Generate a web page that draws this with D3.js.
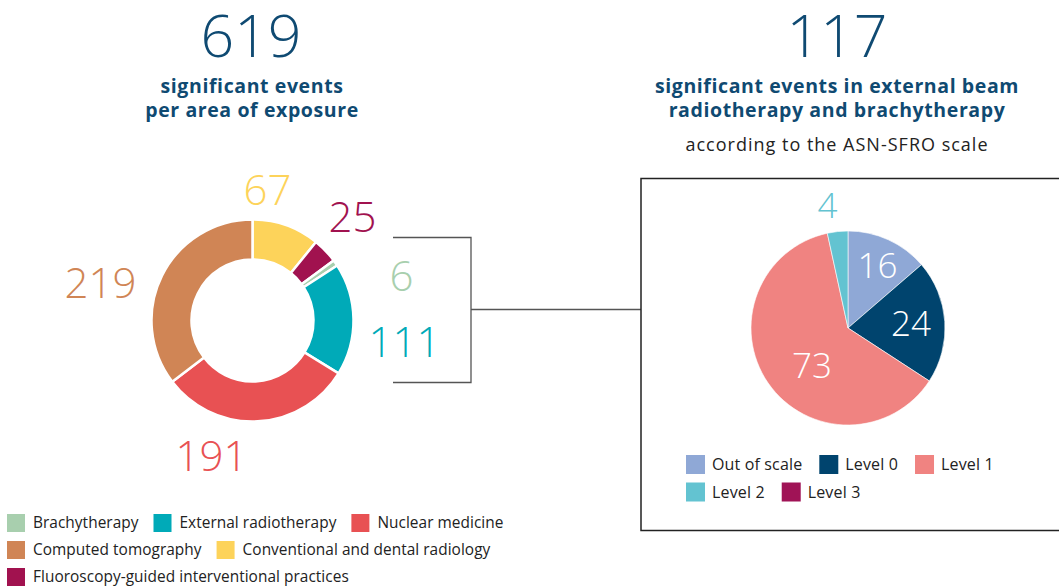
<!DOCTYPE html>
<html>
<head>
<meta charset="utf-8">
<script src="https://cdn.jsdelivr.net/npm/d3@7"></script>
<style>
  body { margin: 0; background: #fff; }
  svg { display: block; font-family: 'Open Sans', 'Noto Sans', sans-serif; }
</style>
</head>
<body>
<div id="chart"></div>
<script>
// Eventos significativos por área de exposición
const areas = ['Conventional and dental radiology', 'Fluoroscopy-guided interventional practices', 'Brachytherapy',
               'External radiotherapy', 'Nuclear medicine', 'Computed tomography'];
const areaValues = [67, 25, 6, 111, 191, 219];
const areaColors = ['#fdd35a', '#a1124f', '#a8cfae', '#00aab8', '#e85153', '#d08555'];
const areaLegend = [['Brachytherapy', 'External radiotherapy', 'Nuclear medicine'],
                    ['Computed tomography', 'Conventional and dental radiology'],
                    ['Fluoroscopy-guided interventional practices']];

// Escala ASN-SFRO
const levels = ['Out of scale', 'Level 0', 'Level 1', 'Level 2', 'Level 3'];
const levelValues = [16, 24, 73, 4, 0];
const levelColors = ['#8fa8d6', '#00446e', '#f08381', '#63c3d1', '#a01356'];
const levelLegend = [['Out of scale', 'Level 0', 'Level 1'], ['Level 2', 'Level 3']];

const width = 1059, height = 587;
const navy = '#0f4a72';

const svg = d3.select('#chart').append('svg')
  .attr('viewBox', [0, 0, width, height])
  .attr('width', width)
  .attr('height', height);

const  titles = svg.append('g').attr('id', 'titles');
const   donut = svg.append('g').attr('id', 'donut').attr('transform', 'translate(252.5,320.5)');
const bracket = svg.append('g').attr('id', 'bracket');
const  pieBox = svg.append('g').attr('id', 'pie-box');
const     pie = svg.append('g').attr('id', 'pie').attr('transform', 'translate(848,328)');
const legends = svg.append('g').attr('id', 'legends');

// ━━━ Titulos ━━━
const total1 = d3.sum(areaValues), total2 = d3.sum(levelValues);

titles.append('text').attr('x', 251).attr('y', 57).attr('text-anchor', 'middle')
  .attr('font-size', 59).attr('font-weight', 300).attr('fill', navy).text(total1);
titles.append('text').attr('x', 837).attr('y', 57).attr('text-anchor', 'middle')
  .attr('font-size', 59).attr('font-weight', 300).attr('fill', navy).text(total2);

// titulo en dos lineas (un solo text con tspans)
function twoLines(x, lines) {
  const t = titles.append('text').attr('x', x).attr('y', 93).attr('text-anchor', 'middle')
    .attr('font-size', 19.5).attr('font-weight', 700).attr('letter-spacing', 0.6).attr('fill', navy);
  lines.forEach((l, i) => t.append('tspan').attr('x', x).attr('dy', i ? 24 : 0).text(l));
}
twoLines(252, ['significant events', 'per area of exposure']);
twoLines(837, ['significant events in external beam', 'radiotherapy and brachytherapy']);

titles.append('text').attr('x', 837).attr('y', 151).attr('text-anchor', 'middle')
  .attr('font-size', 18).attr('letter-spacing', 1).attr('fill', '#222')
  .text('according to the ASN-SFRO scale');

// ━━━ Donut ━━━
const donutPie = d3.pie().sort(null).value(d => d);
const donutArc = d3.arc().innerRadius(61).outerRadius(101);

donut.selectAll('path')
  .data(donutPie(areaValues))
  .join('path')
  .attr('d', donutArc)
  .attr('fill', (d, i) => areaColors[i])
  .attr('stroke', '#fff')
  .attr('stroke-width', 2.5);

// etiquetas externas (posiciones en px respecto del centro)
const donutLabels = [
  { i: 0, dx: 15,   dy: -130.5 },
  { i: 1, dx: 100,  dy: -104 },
  { i: 2, dx: 149,  dy: -45 },
  { i: 3, dx: 152,  dy: 21.5 },
  { i: 4, dx: -41,  dy: 135.5 },
  { i: 5, dx: -152, dy: -37.5 }
];
donut.selectAll('text')
  .data(donutLabels)
  .join('text')
  .attr('x', d => d.dx)
  .attr('y', d => d.dy)
  .attr('dy', '0.36em')
  .attr('text-anchor', 'middle')
  .attr('font-size', 42)
  .attr('font-weight', 300)
  .attr('fill', d => areaColors[d.i])
  .text(d => areaValues[d.i]);

// ━━━ Corchete ━━━
bracket.append('path')
  .attr('d', 'M393,237.5H471V382.5H393M471,309.5H641')
  .attr('fill', 'none')
  .attr('stroke', '#555')
  .attr('stroke-width', 1.3);

// ━━━ Caja + pie ━━━
pieBox.append('rect')
  .attr('x', 641).attr('y', 178.5).attr('width', 430).attr('height', 352)
  .attr('fill', 'none').attr('stroke', '#222').attr('stroke-width', 1.5);

const levelPie = d3.pie().sort(null).value(d => d);
const levelArc = d3.arc().innerRadius(0).outerRadius(97);

pie.selectAll('path')
  .data(levelPie(levelValues).filter(d => d.value > 0))
  .join('path')
  .attr('d', levelArc)
  .attr('fill', d => levelColors[d.index])
  .attr('stroke', '#fff')
  .attr('stroke-width', 0.6);

const pieLabels = [
  { i: 0, dx: 29.5,  dy: -63,    fill: '#fff' },
  { i: 1, dx: 63,    dy: -4.5,   fill: '#fff' },
  { i: 2, dx: -36,   dy: 37.5,   fill: '#fff' },
  { i: 3, dx: -20.5, dy: -122.5, fill: levelColors[3] }
];
pie.selectAll('text')
  .data(pieLabels)
  .join('text')
  .attr('x', d => d.dx)
  .attr('y', d => d.dy)
  .attr('dy', '0.36em')
  .attr('text-anchor', 'middle')
  .attr('font-size', 35)
  .attr('font-weight', 300)
  .attr('fill', d => d.fill)
  .text(d => levelValues[d.i]);

// ━━━ Leyendas ━━━
function drawLegend(g, rows, names, colors, x0, y0, rowH, gap, size, pad, fs, ls) {
  rows.forEach((row, r) => {
    let x = x0;
    row.forEach(name => {
      const item = g.append('g').attr('transform', `translate(${x},${y0 + r * rowH})`);
      item.append('rect').attr('width', size).attr('height', size)
        .attr('fill', colors[names.indexOf(name)]);
      const t = item.append('text').attr('x', size + pad).attr('y', size / 2).attr('dy', '0.35em')
        .attr('font-size', fs).attr('letter-spacing', ls).attr('fill', '#222').text(name);
      x += size + pad + t.node().getComputedTextLength() + gap;
    });
  });
}

drawLegend(legends.append('g'), areaLegend, areas, areaColors, 7, 514, 27, 15, 18, 8, 15.4, 0.05);
drawLegend(legends.append('g'), levelLegend, levels, levelColors, 686, 455, 27.5, 17, 19, 7, 16, 0.15);
</script>
</body>
</html>
